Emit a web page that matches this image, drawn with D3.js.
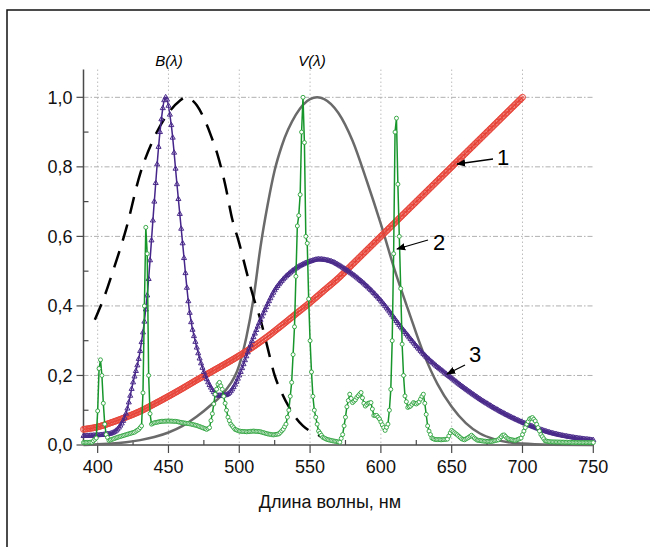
<!DOCTYPE html>
<html>
<head>
<meta charset="utf-8">
<script src="https://cdn.jsdelivr.net/npm/d3@7"></script>
<style>
    body { margin: 0; background: #fff; }
    svg { display: block; font-family: "Liberation Sans", Arial, sans-serif; }
</style>
</head>
<body>
<script>

// wavelength ticks and value ticks
var xTicks = [400, 450, 500, 550, 600, 650, 700, 750];
var yTicks = [0, 0.2, 0.4, 0.6, 0.8, 1.0];
var yTickLabels = ['0,0', '0,2', '0,4', '0,6', '0,8', '1,0'];

// curve 1 (red, circles)
var redNm  = [390, 400, 410, 420, 430, 440, 450, 460, 470, 480, 490, 500, 510, 520, 530, 540, 550, 560, 570, 580, 590, 600, 610, 620, 630, 640, 650, 660, 670, 680, 690, 700];
var redVal = [0.045, 0.052, 0.065, 0.08, 0.097, 0.118, 0.14, 0.163, 0.187, 0.21, 0.233, 0.257, 0.283, 0.312, 0.344, 0.377, 0.41, 0.445, 0.48, 0.52, 0.56, 0.6, 0.64, 0.68, 0.72, 0.76, 0.8, 0.84, 0.88, 0.92, 0.96, 1.0];

// curve 3 (purple, triangles)
var purpleNm  = [390, 400, 405, 410, 415, 420, 425, 430, 435, 440, 444, 448, 452, 456, 460, 465, 470, 475, 480, 485, 490, 495, 500, 505, 510, 515, 520, 525, 530, 540, 550, 556, 565, 575, 585, 600, 615, 630, 650, 670, 685, 700, 720, 735, 750];
var purpleVal = [0.026, 0.028, 0.03, 0.034, 0.05, 0.09, 0.18, 0.27, 0.43, 0.7, 0.9, 1.0, 0.92, 0.75, 0.58, 0.38, 0.28, 0.21, 0.165, 0.142, 0.143, 0.16, 0.2, 0.255, 0.31, 0.36, 0.405, 0.445, 0.472, 0.508, 0.528, 0.534, 0.528, 0.505, 0.475, 0.415, 0.335, 0.262, 0.192, 0.132, 0.095, 0.065, 0.035, 0.022, 0.014];

// curve 2 (green, LED spectrum)
var greenNm  = [390, 396, 399, 400, 401, 402, 403, 404, 405, 406, 408, 410, 414, 418, 422, 426, 429, 431, 432, 433, 434, 435, 436, 437, 438, 440, 445, 450, 455, 460, 465, 470, 474, 477, 479, 481, 483, 485, 486, 488, 490, 492, 494, 497, 500, 505, 510, 515, 520, 524, 528, 531, 533, 535, 537, 539, 541, 542, 543, 544, 545, 546, 547, 548, 549, 550, 551, 552, 553, 554, 556, 559, 562, 566, 571, 573, 575, 576, 578, 580, 582, 583, 586, 588, 589, 591, 593, 595, 597, 599, 601, 603, 605, 606, 607, 608, 609, 610, 611, 612, 613, 614, 615, 616, 617, 619, 621, 623, 625, 627, 629, 630, 631, 632, 633, 634, 636, 638, 643, 647, 649, 650, 652, 654, 657, 659, 662, 664, 666, 668, 673, 678, 683, 686, 687, 689, 691, 695, 699, 701, 703, 705, 707, 709, 711, 713, 716, 720, 730, 740, 750];
var greenVal = [0.007, 0.008, 0.02, 0.098, 0.22, 0.245, 0.2, 0.12, 0.06, 0.03, 0.013, 0.016, 0.022, 0.027, 0.032, 0.037, 0.045, 0.055, 0.15, 0.4, 0.626, 0.55, 0.2, 0.09, 0.06, 0.064, 0.068, 0.069, 0.068, 0.064, 0.061, 0.056, 0.05, 0.045, 0.05, 0.09, 0.146, 0.175, 0.18, 0.16, 0.12, 0.08, 0.06, 0.045, 0.04, 0.038, 0.04, 0.038, 0.032, 0.029, 0.032, 0.045, 0.06, 0.1, 0.18, 0.34, 0.63, 0.66, 0.72, 0.9, 1.0, 0.87, 0.6, 0.58, 0.42, 0.3, 0.21, 0.14, 0.1, 0.08, 0.04, 0.022, 0.016, 0.012, 0.008, 0.03, 0.08, 0.11, 0.146, 0.122, 0.13, 0.137, 0.151, 0.12, 0.112, 0.12, 0.122, 0.085, 0.085, 0.075, 0.058, 0.042, 0.06, 0.1, 0.16, 0.3, 0.55, 0.9, 0.94, 0.75, 0.6, 0.45, 0.29, 0.2, 0.141, 0.108, 0.112, 0.122, 0.118, 0.124, 0.14, 0.146, 0.12, 0.088, 0.055, 0.04, 0.02, 0.016, 0.015, 0.017, 0.035, 0.042, 0.035, 0.029, 0.018, 0.015, 0.022, 0.028, 0.02, 0.014, 0.011, 0.01, 0.015, 0.028, 0.029, 0.02, 0.016, 0.013, 0.02, 0.04, 0.06, 0.075, 0.079, 0.069, 0.05, 0.03, 0.012, 0.009, 0.008, 0.007, 0.007];

// V(lambda), grey solid
var vNm  = [390, 400, 410, 420, 430, 440, 450, 460, 470, 480, 490, 500, 505, 510, 515, 520, 525, 530, 540, 550, 555, 560, 570, 580, 590, 600, 610, 620, 630, 640, 650, 660, 670, 680, 690, 700, 720, 750];
var vVal = [0, 0.002, 0.004, 0.008, 0.014, 0.023, 0.036, 0.055, 0.082, 0.115, 0.155, 0.23, 0.31, 0.42, 0.57, 0.69, 0.79, 0.86, 0.95, 0.995, 1.0, 0.995, 0.955, 0.875, 0.76, 0.635, 0.5, 0.38, 0.265, 0.175, 0.11, 0.063, 0.033, 0.017, 0.008, 0.004, 0.001, 0];

// B(lambda), black dashed
var bNm  = [398, 405, 410, 420, 430, 440, 450, 458, 462, 470, 475, 480, 485, 490, 495, 500, 505, 510, 515, 520, 525, 530, 535, 540, 545, 550, 555, 560, 566];
var bVal = [0.36, 0.43, 0.49, 0.62, 0.78, 0.885, 0.955, 0.99, 1.0, 0.977, 0.94, 0.89, 0.83, 0.75, 0.65, 0.58, 0.5, 0.425, 0.36, 0.28, 0.2, 0.15, 0.11, 0.078, 0.055, 0.04, 0.03, 0.02, 0.012];

var svg = d3.select('body').append('svg')
    .attr('width', 650)
    .attr('height', 547);

var x = d3.scaleLinear().domain([390, 750]).range([83.5, 593.3]);
var y = d3.scaleLinear().domain([0, 1.08]).range([445, 69.5]);

function zip(a, b) {
    return a.map(function(d, i) { return [d, b[i]]; });
}

var line = d3.line()
    .x(function(d) { return x(d[0]); })
    .y(function(d) { return y(d[1]); });

// find points of a drawn path at given wavelengths (path goes left to right)
function pointsOnPath(node, nms) {
    var total = node.getTotalLength();
    return nms.map(function(nm) {
        var tx = x(nm), lo = 0, hi = total, p;
        for (var k = 0; k < 30; k++) {
            var mid = (lo + hi) / 2;
            p = node.getPointAtLength(mid);
            if (p.x < tx) lo = mid; else hi = mid;
        }
        return node.getPointAtLength((lo + hi) / 2);
    });
}

function frame() {
    svg.append('path')
        .attr('d', 'M7,547 V10 H650')
        .attr('fill', 'none')
        .attr('stroke', '#111')
        .attr('stroke-width', 1.5);
}

function drawGrid() {
    xTicks.filter(function(d) { return d < 750; }).forEach(function(d) {
        svg.append('line')
            .attr('x1', x(d)).attr('x2', x(d))
            .attr('y1', y(1.08)).attr('y2', y(0))
            .attr('stroke', '#bdbdbd')
            .attr('stroke-width', 1)
            .attr('stroke-dasharray', '1.5,2.5');
    });
    yTicks.filter(function(d) { return d > 0; }).forEach(function(d) {
        svg.append('line')
            .attr('x1', x(390)).attr('x2', x(750))
            .attr('y1', y(d)).attr('y2', y(d))
            .attr('stroke', '#b0b0b0')
            .attr('stroke-width', 1)
            .attr('stroke-dasharray', '5,2,1.5,2');
    });
}

function drawAxes() {
    var axisColor = '#4a4a4a';
    var xAxis = svg.append('g').attr('transform', 'translate(0,' + y(0) + ')');
    xAxis.append('line').attr('x1', x(390)).attr('x2', x(750)).attr('stroke', axisColor).attr('stroke-width', 1.5);
    d3.range(400, 751, 25).forEach(function(d) {
        var major = d % 50 === 0;
        xAxis.append('line')
            .attr('x1', x(d)).attr('x2', x(d))
            .attr('y1', major ? 0 : -5).attr('y2', major ? 8 : 0)
            .attr('stroke', axisColor).attr('stroke-width', 1.2);
    });
    xAxis.selectAll('text.tick').data(xTicks).enter().append('text')
        .attr('x', function(d) { return x(d); })
        .attr('y', 28)
        .attr('text-anchor', 'middle')
        .attr('font-size', 18)
        .attr('fill', '#111')
        .text(function(d) { return d; });

    var yAxis = svg.append('g').attr('transform', 'translate(' + x(390) + ',0)');
    yAxis.append('line').attr('y1', y(0)).attr('y2', y(1.08)).attr('stroke', axisColor).attr('stroke-width', 1.5);
    d3.range(0, 11).forEach(function(i) {
        var v = i / 10, major = i % 2 === 0;
        yAxis.append('line')
            .attr('y1', y(v)).attr('y2', y(v))
            .attr('x1', major ? -7 : 0).attr('x2', major ? 0 : 5)
            .attr('stroke', axisColor).attr('stroke-width', 1.2);
    });
    yAxis.selectAll('text.tick').data(yTicks).enter().append('text')
        .attr('x', -11)
        .attr('y', function(d) { return y(d); })
        .attr('dy', '0.35em')
        .attr('text-anchor', 'end')
        .attr('font-size', 18)
        .attr('fill', '#111')
        .text(function(d, i) { return yTickLabels[i]; });

    svg.append('text')
        .attr('x', 330).attr('y', 508)
        .attr('text-anchor', 'middle')
        .attr('font-size', 18)
        .attr('fill', '#111')
        .text('Длина волны, нм');
}

function drawCurves() {
    svg.append('path')
        .datum(zip(vNm, vVal))
        .attr('d', line.curve(d3.curveMonotoneX))
        .attr('fill', 'none').attr('stroke', '#6a6a6a').attr('stroke-width', 2.5);

    svg.append('path')
        .datum(zip(bNm, bVal))
        .attr('d', line.curve(d3.curveMonotoneX))
        .attr('fill', 'none').attr('stroke', '#000').attr('stroke-width', 2.5)
        .attr('stroke-dasharray', '17,11');

    // red, circles
    var red = svg.append('path')
        .datum(zip(redNm, redVal))
        .attr('d', line.curve(d3.curveMonotoneX))
        .attr('fill', 'none').attr('stroke', '#e53a2f').attr('stroke-width', 1.5);
    svg.append('g').selectAll('circle')
        .data(pointsOnPath(red.node(), d3.range(390, 701, 1)))
        .enter().append('circle')
        .attr('cx', function(p) { return p.x; })
        .attr('cy', function(p) { return p.y; })
        .attr('r', 3)
        .attr('fill', 'none').attr('stroke', '#e8463b').attr('stroke-width', 1);

    // purple, triangles
    var purple = svg.append('path')
        .datum(zip(purpleNm, purpleVal))
        .attr('d', line.curve(d3.curveMonotoneX))
        .attr('fill', 'none').attr('stroke', '#45258a').attr('stroke-width', 1.5);
    var tri = d3.symbol(d3.symbolTriangle).size(11);
    svg.append('g').selectAll('path')
        .data(pointsOnPath(purple.node(), d3.range(390, 751, 1)))
        .enter().append('path')
        .attr('d', tri)
        .attr('transform', function(p) { return 'translate(' + p.x + ',' + p.y + ')'; })
        .attr('fill', 'none').attr('stroke', '#4a2a8a').attr('stroke-width', 1);

    // green, small circles
    var green = svg.append('path')
        .datum(zip(greenNm, greenVal))
        .attr('d', line.curve(d3.curveLinear))
        .attr('fill', 'none').attr('stroke', '#17962c').attr('stroke-width', 1.5);
    svg.append('g').selectAll('circle')
        .data(pointsOnPath(green.node(), d3.range(390, 751, 1)))
        .enter().append('circle')
        .attr('cx', function(p) { return p.x; })
        .attr('cy', function(p) { return p.y; })
        .attr('r', 2)
        .attr('fill', '#fff').attr('stroke', '#2aa23a').attr('stroke-width', 0.9);
}

function drawLabels() {
    svg.append('defs').append('marker')
        .attr('id', 'arrow')
        .attr('viewBox', '0 0 10 10')
        .attr('refX', 9).attr('refY', 5)
        .attr('markerWidth', 7).attr('markerHeight', 7)
        .attr('orient', 'auto')
        .append('path').attr('d', 'M0,1 L10,5 L0,9 Z').attr('fill', '#000');

    var notes = [
        { t: '1', tx: 503, ty: 165, x1: 493, y1: 159, x2: 457, y2: 164 },
        { t: '2', tx: 439, ty: 250, x1: 428, y1: 240, x2: 397, y2: 249 },
        { t: '3', tx: 475, ty: 362, x1: 465, y1: 365, x2: 447, y2: 374 }
    ];
    notes.forEach(function(n) {
        svg.append('line')
            .attr('x1', n.x1).attr('y1', n.y1).attr('x2', n.x2).attr('y2', n.y2)
            .attr('stroke', '#000').attr('stroke-width', 1.3)
            .attr('marker-end', 'url(#arrow)');
        svg.append('text')
            .attr('x', n.tx).attr('y', n.ty)
            .attr('text-anchor', 'middle')
            .attr('font-size', 22)
            .text(n.t);
    });

    svg.append('text').attr('x', 169).attr('y', 66)
        .attr('text-anchor', 'middle').attr('font-size', 15).attr('font-style', 'italic')
        .text('B(λ)');
    svg.append('text').attr('x', 312).attr('y', 66)
        .attr('text-anchor', 'middle').attr('font-size', 15).attr('font-style', 'italic')
        .text('V(λ)');
}

frame();
drawGrid();
drawAxes();
drawCurves();
drawLabels();

</script>
</body>
</html>
